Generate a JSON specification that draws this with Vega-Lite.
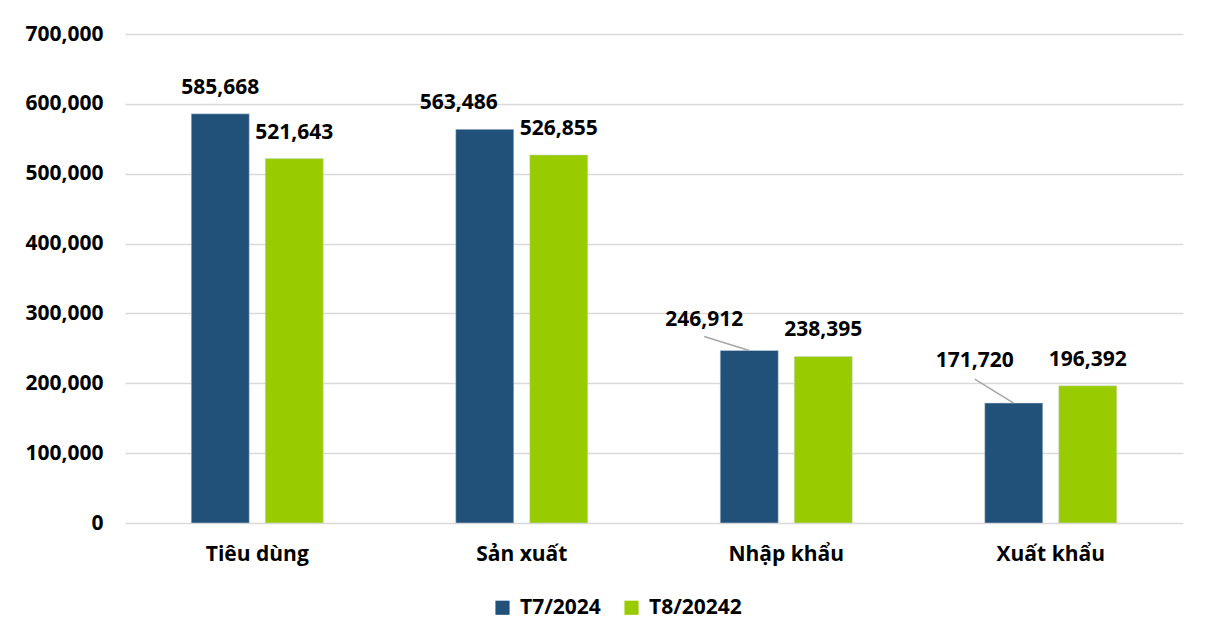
{
  "$schema": "https://vega.github.io/schema/vega-lite/v6.json",
  "width": 1058,
  "height": 489,
  "autosize": {"type": "none"},
  "padding": {"left": 125, "top": 34, "right": 26, "bottom": 120},
  "background": "white",
  "config": {
    "view": {"stroke": null},
    "font": "Open Sans",
    "text": {"font": "Open Sans", "fontWeight": "bold", "fontSize": 21, "color": "#000000"}
  },
  "data": {
    "values": [
      {"cat": "Tiêu dùng", "series": "T7/2024", "v": 585668},
      {"cat": "Tiêu dùng", "series": "T8/20242", "v": 521643},
      {"cat": "Sản xuất", "series": "T7/2024", "v": 563486},
      {"cat": "Sản xuất", "series": "T8/20242", "v": 526855},
      {"cat": "Nhập khẩu", "series": "T7/2024", "v": 246912},
      {"cat": "Nhập khẩu", "series": "T8/20242", "v": 238395},
      {"cat": "Xuất khẩu", "series": "T7/2024", "v": 171720},
      {"cat": "Xuất khẩu", "series": "T8/20242", "v": 196392}
    ]
  },
  "encoding": {
    "x": {
      "field": "cat", "type": "nominal", "sort": null,
      "scale": {"paddingInner": 0, "paddingOuter": 0},
      "axis": {"title": null, "labelAngle": 0, "domain": false, "ticks": false, "labelFont": "Open Sans", "labelFontWeight": "bold", "labelFontSize": 21, "labelColor": "#000000", "labelPadding": 20}
    },
    "y": {
      "field": "v", "type": "quantitative",
      "scale": {"domain": [0, 700000], "nice": false},
      "axis": {"title": null, "values": [0, 100000, 200000, 300000, 400000, 500000, 600000, 700000], "format": ",d", "domain": false, "ticks": false, "gridColor": "#D9D9D9", "gridWidth": 1.5, "labelFont": "Open Sans", "labelFontWeight": "bold", "labelFontSize": 21, "labelColor": "#000000", "labelPadding": 22}
    }
  },
  "layer": [
    {
      "mark": {"type": "bar", "stroke": "#C9D6E3", "strokeWidth": 0.5},
      "encoding": {
        "xOffset": {"field": "series", "type": "nominal", "scale": {"paddingInner": 0.216, "paddingOuter": 0.895}},
        "color": {
          "field": "series", "type": "nominal",
          "scale": {"domain": ["T7/2024", "T8/20242"], "range": ["#215078", "#99CC00"]},
          "legend": {"title": null, "orient": "none", "direction": "horizontal", "legendX": 367, "legendY": 563, "symbolType": "square", "symbolSize": 200, "symbolStrokeWidth": 0, "labelFont": "Open Sans", "labelFontWeight": "bold", "labelFontSize": 21, "labelColor": "#000000", "columnPadding": 20, "labelOffset": 7}
        }
      }
    },
    {
      "transform": [{"filter": "!(datum.series == 'T7/2024' && (datum.cat == 'Sản xuất' || datum.cat == 'Nhập khẩu' || datum.cat == 'Xuất khẩu'))"}],
      "mark": {"type": "text", "baseline": "middle", "dy": -26},
      "encoding": {
        "xOffset": {"field": "series", "type": "nominal", "scale": {"paddingInner": 0.216, "paddingOuter": 0.895}},
        "text": {"field": "v", "type": "quantitative", "format": ",d"}
      }
    },
    {
      "transform": [{"filter": "datum.series == 'T7/2024' && datum.cat == 'Sản xuất'"}],
      "mark": {"type": "text", "baseline": "middle", "dy": -26, "dx": -26},
      "encoding": {
        "xOffset": {"field": "series", "type": "nominal", "scale": {"domain": ["T7/2024", "T8/20242"], "paddingInner": 0.216, "paddingOuter": 0.895}},
        "text": {"field": "v", "type": "quantitative", "format": ",d"}
      }
    },
    {
      "transform": [{"filter": "datum.series == 'T7/2024' && datum.cat == 'Nhập khẩu'"}],
      "mark": {"type": "text", "baseline": "middle", "dy": -31, "dx": -45},
      "encoding": {
        "xOffset": {"field": "series", "type": "nominal", "scale": {"domain": ["T7/2024", "T8/20242"], "paddingInner": 0.216, "paddingOuter": 0.895}},
        "text": {"field": "v", "type": "quantitative", "format": ",d"}
      }
    },
    {
      "transform": [{"filter": "datum.series == 'T7/2024' && datum.cat == 'Xuất khẩu'"}],
      "mark": {"type": "text", "baseline": "middle", "dy": -42, "dx": -39},
      "encoding": {
        "xOffset": {"field": "series", "type": "nominal", "scale": {"domain": ["T7/2024", "T8/20242"], "paddingInner": 0.216, "paddingOuter": 0.895}},
        "text": {"field": "v", "type": "quantitative", "format": ",d"}
      }
    },
    {
      "transform": [{"filter": "datum.series == 'T7/2024' && datum.cat == 'Nhập khẩu'"}],
      "mark": {"type": "rule", "color": "#A6A6A6", "strokeWidth": 1.5, "x2Offset": -45, "y2Offset": -14},
      "encoding": {
        "x": {"field": "cat", "type": "nominal", "sort": null, "bandPosition": 0.36},
        "x2": {"field": "cat", "bandPosition": 0.36},
        "y2": {"field": "v"}
      }
    },
    {
      "transform": [{"filter": "datum.series == 'T7/2024' && datum.cat == 'Xuất khẩu'"}],
      "mark": {"type": "rule", "color": "#A6A6A6", "strokeWidth": 1.5, "x2Offset": -39, "y2Offset": -24},
      "encoding": {
        "x": {"field": "cat", "type": "nominal", "sort": null, "bandPosition": 0.36},
        "x2": {"field": "cat", "bandPosition": 0.36},
        "y2": {"field": "v"}
      }
    }
  ]
}
